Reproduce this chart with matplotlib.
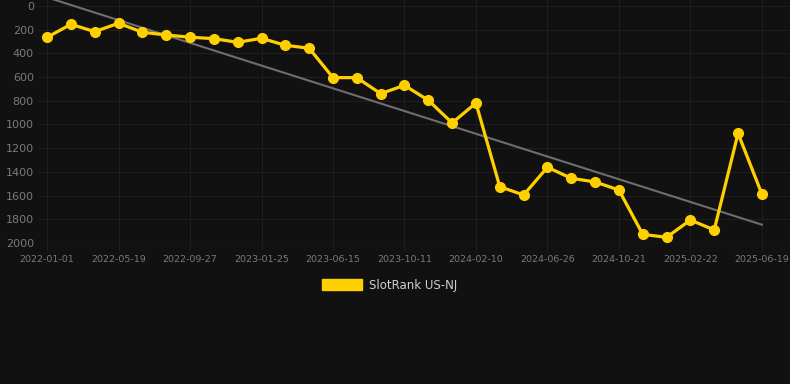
import numpy as np
import matplotlib
matplotlib.use("Agg")
import matplotlib.pyplot as plt
from matplotlib.patches import Patch

dates = ["2022-01-01", "2022-02-16", "2022-04-03", "2022-05-19", "2022-07-02",
         "2022-08-15", "2022-09-27", "2022-11-06", "2022-12-16", "2023-01-25",
         "2023-03-12", "2023-04-29", "2023-06-15", "2023-07-24", "2023-09-01",
         "2023-10-11", "2023-11-21", "2023-12-31", "2024-02-10", "2024-03-26",
         "2024-05-11", "2024-06-26", "2024-08-04", "2024-09-12", "2024-10-21",
         "2024-12-01", "2025-01-11", "2025-02-22", "2025-04-01", "2025-05-10",
         "2025-06-19"]
rank = [265, 155, 217, 146, 222, 245, 264, 276, 307, 273,
        332, 357, 605, 605, 740, 670, 796, 987, 819, 1525,
        1595, 1361, 1454, 1485, 1553, 1927, 1952, 1806, 1890, 1075,
        1587]
series_name = "SlotRank US-NJ"

bg = "#111111"
gold = "#FFD000"
grid_c = "#1e1e1e"
text_c = "#7a7a7a"

fig = plt.figure(figsize=(7.9, 3.84), dpi=100, facecolor=bg)
ax = fig.add_axes([38 / 790, 1 - 243 / 384, 752 / 790, 243 / 384])
ax.set_facecolor(bg)

x = np.arange(len(dates))
# trend line (least squares)
k, b = np.polyfit(x, rank, 1)
ax.plot([x[0], x[-1]], [k * x[0] + b, k * x[-1] + b], color="#6e6e6e", lw=1.5, zorder=2)

ax.plot(x, rank, color=gold, lw=2.3, marker="o", ms=7, zorder=3)

ax.set_xlim(-0.38, 31.18)
ax.set_ylim(2000, -50)
ax.set_yticks(np.arange(0, 2001, 200))
ax.set_xticks(x[::3])
ax.set_xticklabels(dates[::3])

ax.grid(True, color=grid_c, lw=0.8)
ax.set_axisbelow(True)
for s in ax.spines.values():
    s.set_visible(False)
ax.axhline(2000, color="#2a2a2a", lw=1, zorder=1)
ax.tick_params(axis="y", length=0, pad=3, labelsize=8, labelcolor=text_c)
ax.tick_params(axis="x", length=5, color=grid_c, pad=4, labelsize=6.8, labelcolor=text_c)

fig.legend(handles=[Patch(facecolor=gold, edgecolor=gold)], labels=[series_name],
           loc="center", bbox_to_anchor=(390 / 790, 1 - 285 / 384),
           frameon=False, fontsize=8.5, labelcolor="#cfcfcf",
           handlelength=3.4, handleheight=0.95, handletextpad=0.6)

fig.savefig("out.png", dpi=100, facecolor=bg)
